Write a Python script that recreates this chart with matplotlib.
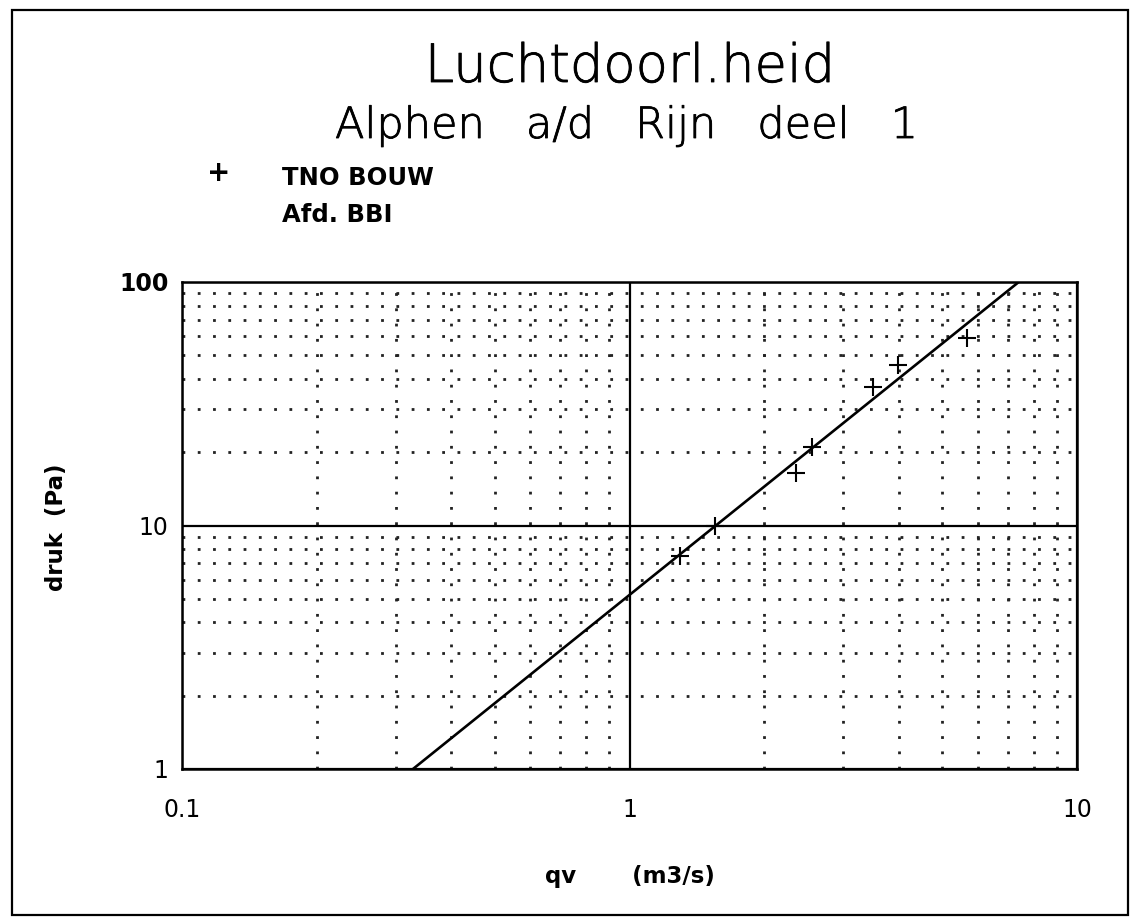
import matplotlib
matplotlib.use('Agg')
import matplotlib.pyplot as plt
import matplotlib.patheffects as pe
import numpy as np
from matplotlib.ticker import LogLocator, NullFormatter
from matplotlib.patches import Rectangle

# ---- data ----
qv = [1.30, 1.55, 2.36, 2.56, 3.50, 3.99, 5.67]          # m3/s
druk = [7.53, 10.0, 16.5, 21.0, 36.9, 45.7, 58.8]        # Pa
x_ticks = [0.1, 1, 10]
x_tick_labels = ['0.1', '1', '10']
y_ticks = [1, 10, 100]
y_tick_labels = ['1', '10', '100']
title = 'Luchtdoorl.heid'
subtitle = 'Alphen   a/d   Rijn   deel   1'
legend_line1 = 'TNO BOUW'
legend_line2 = 'Afd. BBI'

plt.rcParams['font.family'] = ['DejaVu Sans']

W, H = 1131, 917
fig = plt.figure(figsize=(W / 100, H / 100), dpi=100)
fig.patch.set_facecolor('white')

# outer frame
fig.patches.append(Rectangle((12 / W, 1 - 915 / H), (1128 - 12) / W, (915 - 10) / H,
                             transform=fig.transFigure, fill=False,
                             edgecolor='black', linewidth=1.6))

ax = fig.add_axes([182 / W, 1 - 769 / H, 895 / W, 487 / H])
ax.set_xscale('log')
ax.set_yscale('log')
ax.set_xlim(0.1, 10)
ax.set_ylim(1, 100)

for axis in (ax.xaxis, ax.yaxis):
    axis.set_minor_locator(LogLocator(base=10, subs=(2, 3, 4, 5, 6, 7, 8, 9)))
    axis.set_minor_formatter(NullFormatter())

ax.set_xticks(x_ticks, x_tick_labels)
ax.set_yticks(y_ticks, y_tick_labels)
ax.grid(which='minor', color='#222222', linestyle=(0, (1, 4.5)), linewidth=2.0)
ax.grid(which='major', color='black', linestyle='-', linewidth=1.6)
ax.set_axisbelow(True)

ax.tick_params(which='both', length=0)
ax.tick_params(axis='x', pad=21, labelsize=17)
ax.tick_params(axis='y', pad=9.5, labelsize=17)
for lab in ax.get_yticklabels():
    if lab.get_text() == '100':
        lab.set_fontweight('bold')
for sp in ax.spines.values():
    sp.set_linewidth(1.8)
    sp.set_color('black')

# power-law fit through the measurements
coef = np.polyfit(np.log10(qv), np.log10(druk), 1)
xf = np.array([0.1, 10.0])
yf = 10 ** np.polyval(coef, np.log10(xf))
ax.plot(xf, yf, color='black', linewidth=1.9, solid_capstyle='butt')
ax.plot(qv, druk, linestyle='none', marker='+', markersize=13,
        markeredgewidth=1.5, color='black')

ax.set_xlabel('qv       (m3/s)', fontsize=16.5, fontweight='bold')
ax.xaxis.set_label_coords(0.5, (769 - 877) / 487)
ax.xaxis.label.set_va('center')
ax.set_ylabel('druk  (Pa)', fontsize=16.5, fontweight='bold')
ax.yaxis.set_label_coords((56 - 182) / 895, (769 - 527) / 487)
ax.yaxis.label.set_va('center')

# titles
thick = [pe.withStroke(linewidth=0.6, foreground='black')]
fig.text(630 / W, 1 - 82 / H, title, fontsize=38, fontweight='light',
         ha='center', va='baseline', path_effects=thick)
fig.text(626 / W, 1 - 138 / H, subtitle, fontsize=31, fontweight='light',
         ha='center', va='baseline', path_effects=thick)

# legend block
fig.text(219 / W, 1 - 173 / H, '+', fontsize=20, fontweight='bold',
         ha='center', va='center')
fig.text(282 / W, 1 - 185 / H, legend_line1, fontsize=17.5, fontweight='bold',
         ha='left', va='baseline')
fig.text(282 / W, 1 - 222 / H, legend_line2, fontsize=17.5, fontweight='bold',
         ha='left', va='baseline')

fig.savefig('out.png', dpi=100, facecolor='white')
